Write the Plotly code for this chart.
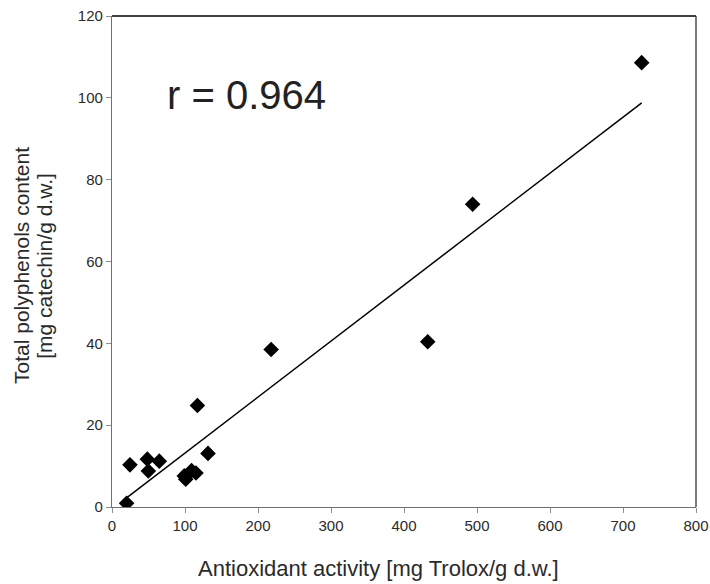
import plotly.graph_objects as go
import numpy as np

# Data
antioxidant = [20, 24.6, 48.4, 49.8, 64.8, 99, 101, 109, 115, 117, 131.5, 218, 432.5, 494, 725.6]
polyphenols = [0.9, 10.3, 11.7, 8.8, 11.2, 7.6, 6.8, 8.9, 8.3, 24.8, 13.1, 38.5, 40.4, 74.0, 108.6]
trend_slope = 0.1368
trend_intercept = -0.5
r_label = "r = 0.964"
x_ticks = [0, 100, 200, 300, 400, 500, 600, 700, 800]
y_ticks = [0, 20, 40, 60, 80, 100, 120]
x_title = "Antioxidant activity [mg Trolox/g d.w.]"
y_title_lines = ["Total polyphenols content", "[mg catechin/g d.w.]"]

font_family = "Arial, Liberation Sans, sans-serif"
text_color = "#2a2a2a"

tx = np.array([min(antioxidant), max(antioxidant)])
ty = trend_slope * tx + trend_intercept

fig = go.Figure()
fig.add_trace(go.Scatter(x=tx, y=ty, mode="lines",
                         line=dict(color="black", width=1.5),
                         showlegend=False, hoverinfo="skip"))
fig.add_trace(go.Scatter(x=antioxidant, y=polyphenols, mode="markers",
                         marker=dict(symbol="diamond", size=12, color="black",
                                     line=dict(width=0)),
                         showlegend=False))

axis_common = dict(showgrid=False, zeroline=False, ticks="outside", ticklen=5,
                   tickcolor="#909090", tickwidth=1, automargin=False,
                   ticklabeloverflow="allow",
                   tickfont=dict(family=font_family, size=15, color=text_color),
                   showline=True, linecolor="#707070", linewidth=1.3)

fig.update_xaxes(range=[0, 800], tickvals=x_ticks, **axis_common)
fig.update_yaxes(range=[0, 120], tickvals=y_ticks, **axis_common)

# frame top and right
fig.add_shape(type="line", xref="paper", yref="paper", x0=0, x1=1, y0=1, y1=1,
              line=dict(color="black", width=1.3))
fig.add_shape(type="line", xref="paper", yref="paper", x0=1, x1=1, y0=0, y1=1,
              line=dict(color="#333333", width=1.3))

fig.add_annotation(x=0.09, y=0.84, xref="paper", yref="paper", text=r_label,
                   showarrow=False, xanchor="left", yanchor="middle",
                   font=dict(family=font_family, size=40, color="#222222"))

# axis titles
fig.add_annotation(x=0.457, y=-0.126, xref="paper", yref="paper", text=x_title,
                   showarrow=False, xanchor="center", yanchor="middle",
                   font=dict(family=font_family, size=22, color=text_color))
fig.add_annotation(x=-0.154, y=0.491, xref="paper", yref="paper", text=y_title_lines[0],
                   showarrow=False, xanchor="center", yanchor="middle", textangle=-90,
                   font=dict(family=font_family, size=21, color=text_color))
fig.add_annotation(x=-0.115, y=0.491, xref="paper", yref="paper", text=y_title_lines[1],
                   showarrow=False, xanchor="center", yanchor="middle", textangle=-90,
                   font=dict(family=font_family, size=21, color=text_color))

fig.update_layout(width=710, height=584, plot_bgcolor="white", paper_bgcolor="white",
                  margin=dict(l=112, r=14, t=16, b=77))

# remove the default page margin so the 710x584 figure fills the window exactly
fig.write_html("out.html",
               config={"displayModeBar": False},
               post_script="document.body.style.margin='0';"
                           "document.documentElement.style.overflow='hidden';")
